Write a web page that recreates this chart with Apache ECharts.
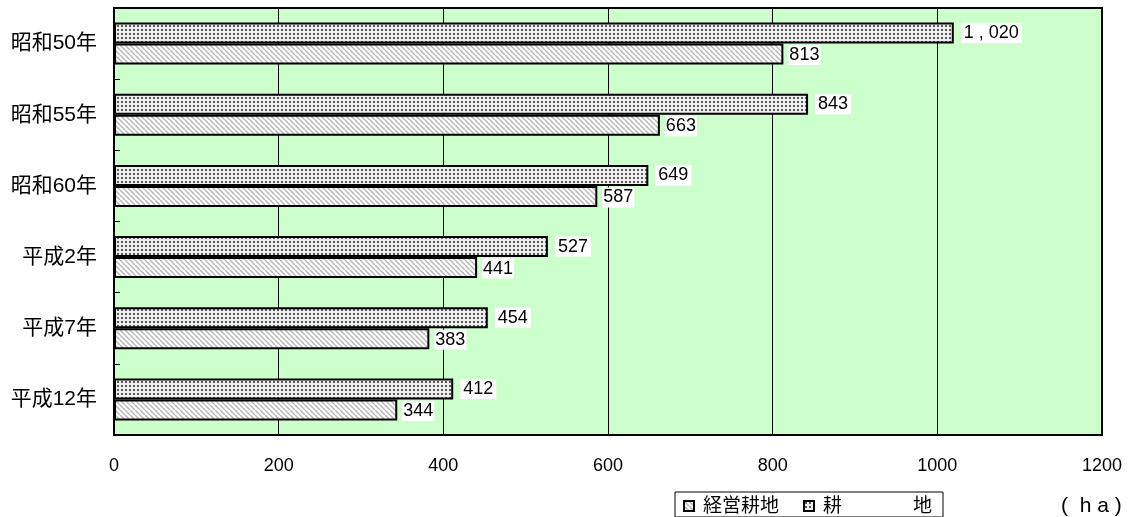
<!DOCTYPE html>
<html>
<head>
<meta charset="utf-8">
<script src="https://cdn.jsdelivr.net/npm/echarts@6/dist/echarts.min.js"></script>
<style>
  html, body { margin: 0; padding: 0; background: #ffffff; }
  #chart { width: 1132px; height: 517px; }
</style>
</head>
<body>
<div id="chart"></div>
<script>
// 年次区分
const years = ['昭和50年', '昭和55年', '昭和60年', '平成2年', '平成7年', '平成12年'];
// 耕地面積 (ha)
const kouchi = [1020, 843, 649, 527, 454, 412];
// 経営耕地面積 (ha)
const keieiKouchi = [813, 663, 587, 441, 383, 344];
// 横軸目盛
const xTicks = [0, 200, 400, 600, 800, 1000, 1200];

const FONT = "'Liberation Sans', 'Noto Sans CJK JP', sans-serif";
const JP = "'Liberation Sans', 'Noto Sans CJK JP', sans-serif";

// 網点パターン
function dotPattern() {
  const c = document.createElement('canvas');
  c.width = 4; c.height = 4;
  const g = c.getContext('2d');
  g.fillStyle = '#eeeeee';
  g.fillRect(0, 0, 4, 4);
  g.fillStyle = '#5a5a5a';
  g.fillRect(1, 1, 2, 2);
  return c;
}
// 斜線パターン
function hatchPattern() {
  const c = document.createElement('canvas');
  c.width = 5; c.height = 5;
  const g = c.getContext('2d');
  g.fillStyle = '#ffffff';
  g.fillRect(0, 0, 5, 5);
  g.strokeStyle = '#b8b8b8';
  g.lineWidth = 1.5;
  for (const o of [-5, 0, 5]) {
    g.beginPath();
    g.moveTo(o, 0);
    g.lineTo(o + 5, 5);
    g.stroke();
  }
  return c;
}

const fmt = v => v.toLocaleString('en-US');

const labelStyle = {
  show: true,
  position: 'right',
  distance: 6,
  color: '#000',
  fontFamily: FONT,
  fontSize: 18,
  backgroundColor: '#ffffff',
  padding: [2, 1, 0, 1],
  formatter: p => fmt(p.value)
};

const chart = echarts.init(document.getElementById('chart'), null, { renderer: 'canvas' });
chart.setOption({
  animation: false,
  backgroundColor: '#ffffff',
  grid: {
    left: 114, right: 30, top: 8, bottom: 82,
    show: true,
    backgroundColor: '#ccffcc',
    borderColor: '#000',
    borderWidth: 2
  },
  legend: {
    data: ['経営耕地', '耕地'],
    left: 675, top: 492,
    padding: [5, 11, 1, 8],
    itemGap: 24,
    itemWidth: 10, itemHeight: 10,
    borderColor: '#000', borderWidth: 1,
    icon: 'rect',
    itemStyle: { borderColor: '#000', borderWidth: 2 },
    formatter: name => name === '耕地' ? '{w|耕}地' : name,
    textStyle: {
      fontFamily: JP, fontSize: 19, color: '#000', padding: [1, 0, 0, 4],
      rich: { w: { width: 90, fontFamily: JP, fontSize: 19, color: '#000' } }
    }
  },
  xAxis: {
    type: 'value',
    min: xTicks[0], max: xTicks[xTicks.length - 1], interval: 200,
    axisLine: { show: false },
    axisTick: { show: false },
    splitLine: { show: true, lineStyle: { color: '#000', width: 1 } },
    axisLabel: { margin: 22, color: '#000', fontFamily: FONT, fontSize: 18, formatter: v => String(v) }
  },
  yAxis: {
    type: 'category',
    data: years,
    inverse: true,
    axisLine: { show: true, lineStyle: { color: '#000', width: 2 } },
    axisTick: { show: true, inside: true, length: 6, lineStyle: { color: '#000', width: 1 } },
    axisLabel: { margin: 17, color: '#000', fontFamily: JP, fontSize: 21 }
  },
  series: [
    {
      name: '耕地',
      type: 'bar',
      data: kouchi,
      barWidth: 21,
      barGap: '0%',
      itemStyle: { color: { image: dotPattern(), repeat: 'repeat' }, borderColor: '#000', borderWidth: 2 },
      label: Object.assign({}, labelStyle, { distance: 7, padding: [2, 3, 0, 3], formatter: p => fmt(p.value).replace(',', ' , ') })
    },
    {
      name: '経営耕地',
      type: 'bar',
      data: keieiKouchi,
      barWidth: 21,
      barGap: '0%',
      itemStyle: { color: { image: hatchPattern(), repeat: 'repeat' }, borderColor: '#000', borderWidth: 2 },
      label: Object.assign({}, labelStyle, { distance: 5, offset: [0, 1] })
    }
  ],
  graphic: [{
    type: 'text',
    x: 1061, y: 506,
    style: { text: '(  h a )', fontFamily: FONT, fontSize: 21, fill: '#000', verticalAlign: 'middle' }
  }]
});
</script>
</body>
</html>
